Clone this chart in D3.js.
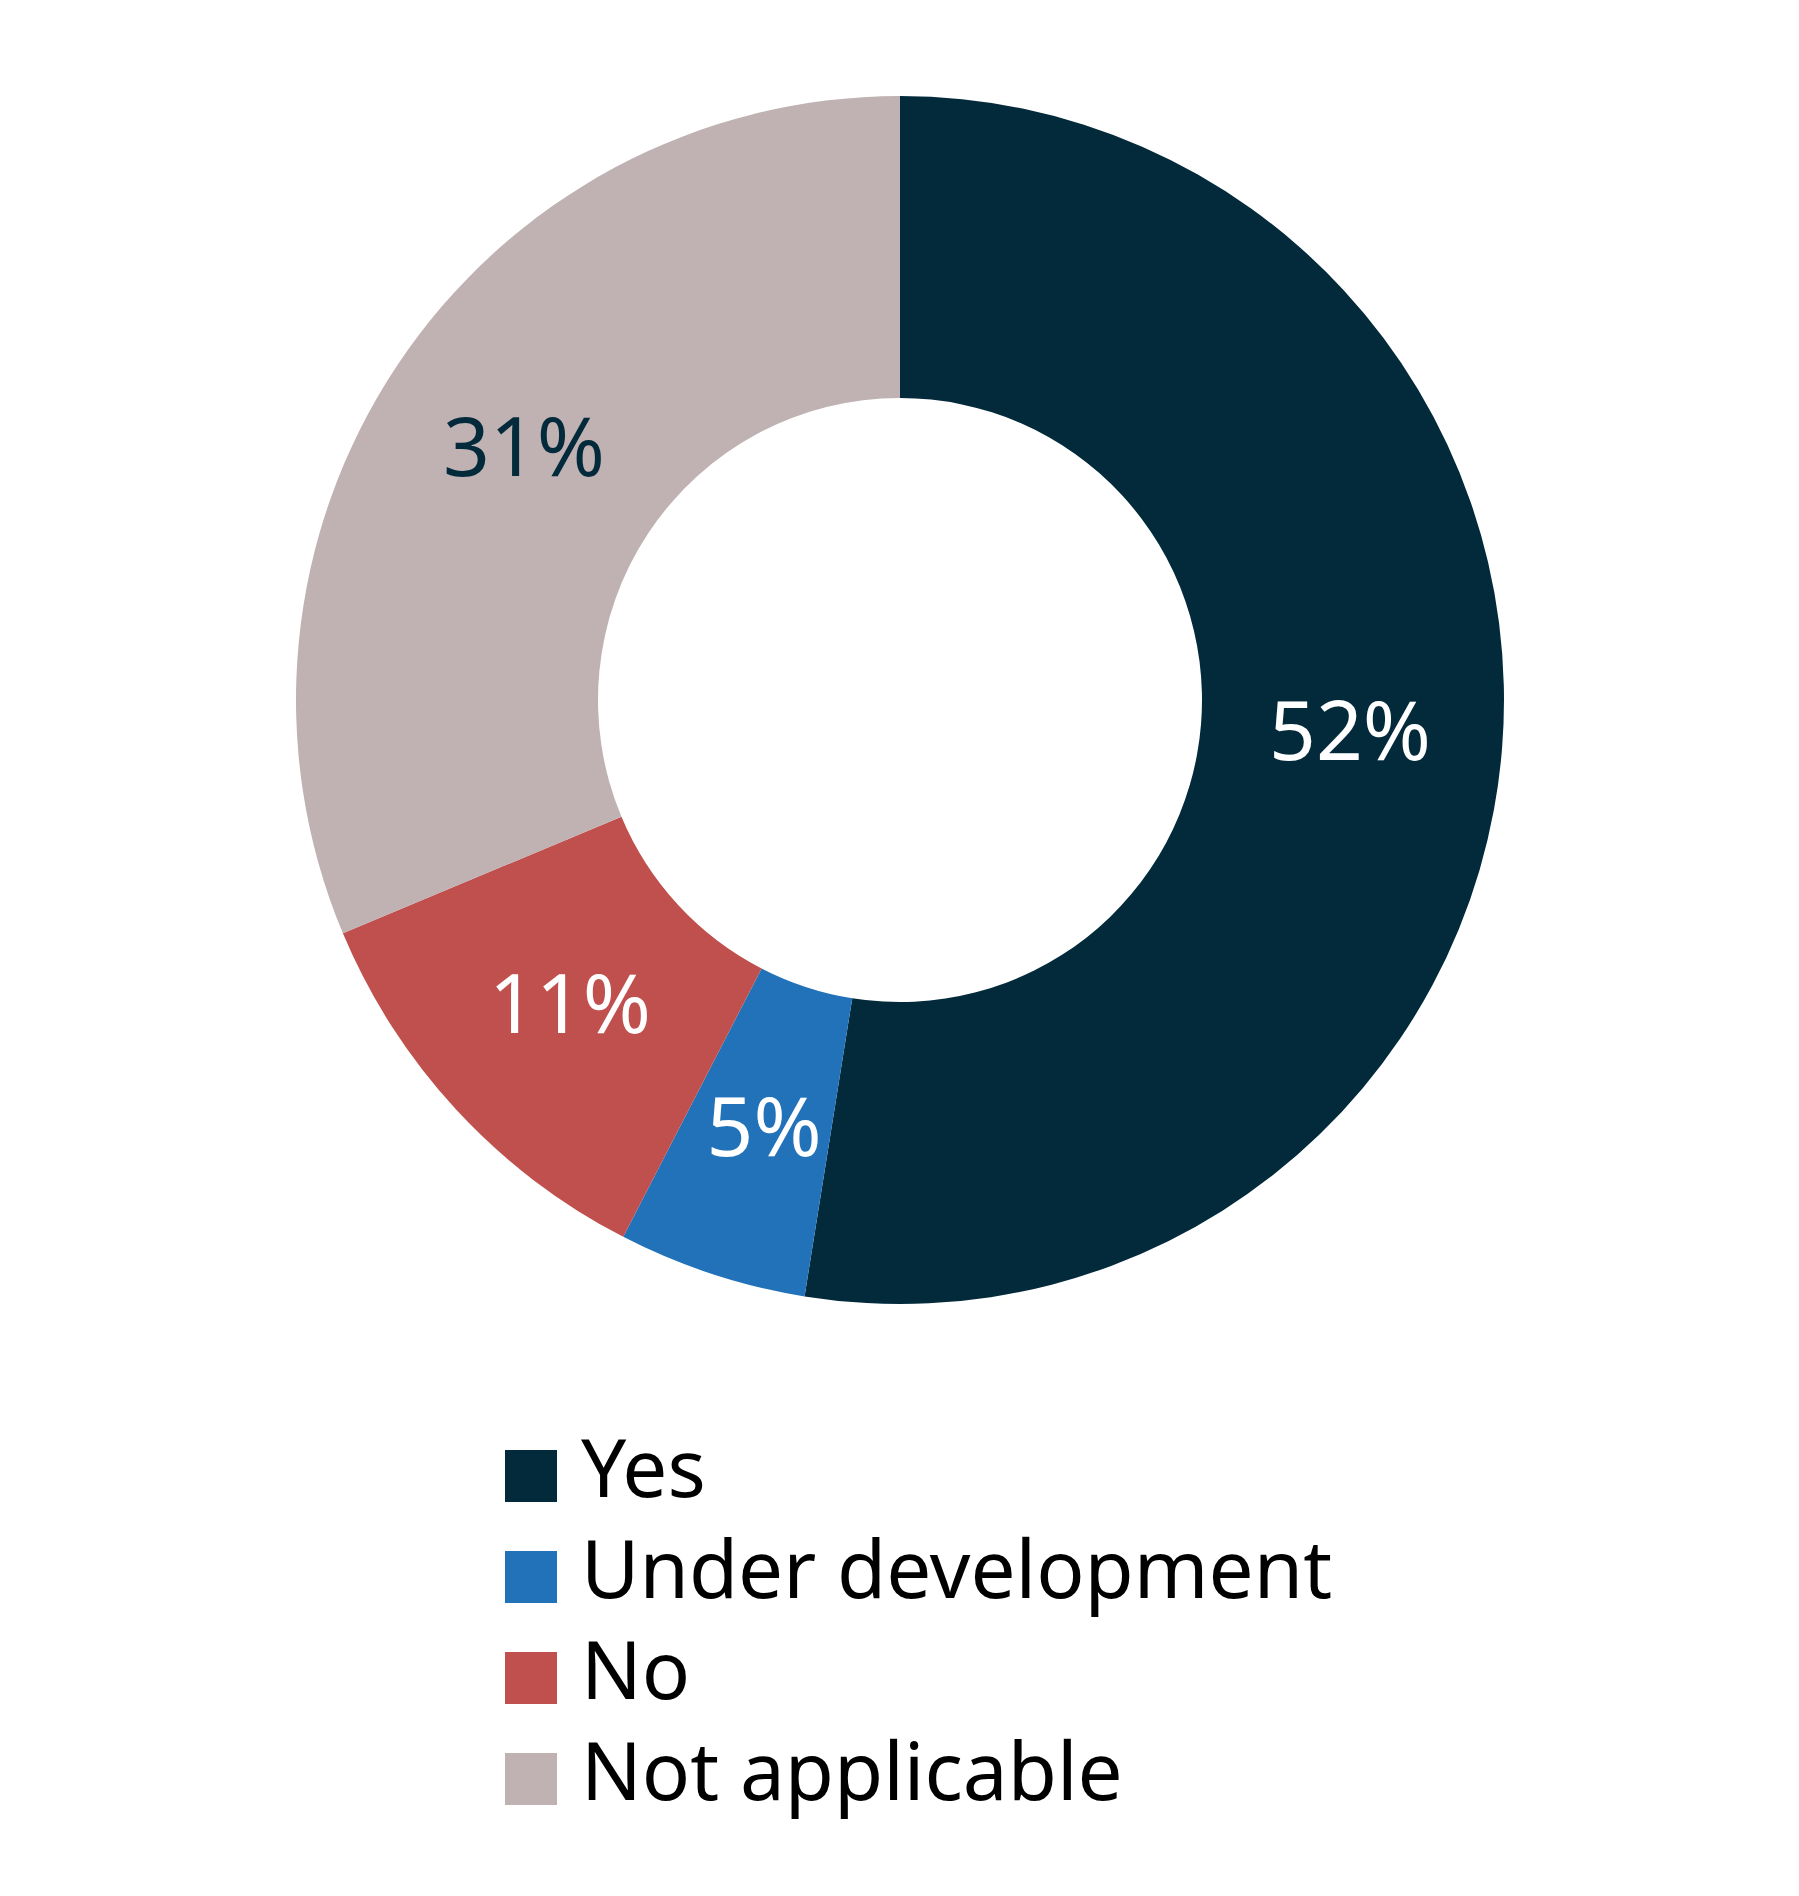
<!DOCTYPE html>
<html><head><meta charset="utf-8">
<script src="https://cdn.jsdelivr.net/npm/d3@7"></script>
<style>body{margin:0;background:#fff}</style>
</head><body><div id="chart"></div>
<script>
const categories = ["Yes", "Under development", "No", "Not applicable"];
const values = [52, 5, 11, 31];
const labels = ["52%", "5%", "11%", "31%"];
const colors = ["#022a3b", "#2272b9", "#c0504d", "#c0b1b3"];
const labelColors = ["#fff", "#fff", "#fff", "#022a3b"];

const width = 1799, height = 1896;
const cx = 900, cy = 700, outerR = 604, innerR = 302;
const font = "'Source Sans Pro', 'Noto Sans', sans-serif";

const svg = d3.select("#chart").append("svg")
    .attr("width", width).attr("height", height);

const data = categories.map((c, i) => ({cat: c, value: values[i], label: labels[i], i}));
const pie = d3.pie().sort(null).value(d => d.value);
const arc = d3.arc().innerRadius(innerR).outerRadius(outerR);

const g = svg.append("g").attr("transform", `translate(${cx},${cy})`);
const arcs = pie(data);

g.selectAll("path").data(arcs).enter().append("path")
    .attr("d", arc)
    .attr("fill", d => colors[d.data.i]);

// label offsets tuned to the reference
const labelPos = [[450, 38], [-136, 434], [-330, 311], [-376, -246]];
g.selectAll("text.lbl").data(arcs).enter().append("text")
    .attr("class", "lbl")
    .attr("x", d => labelPos[d.data.i][0])
    .attr("y", d => labelPos[d.data.i][1])
    .attr("text-anchor", "middle")
    .attr("dominant-baseline", "middle")
    .attr("font-family", font)
    .attr("font-size", 82)
    .attr("fill", d => labelColors[d.data.i])
    .text(d => d.data.label);

// legend
const legend = svg.append("g").attr("transform", "translate(505,1450)");
const row = d3.scaleBand().domain(categories).range([0, 404]);
const items = legend.selectAll("g").data(categories).enter().append("g")
    .attr("transform", d => `translate(0,${row(d)})`);
items.append("rect").attr("width", 52).attr("height", 52)
    .attr("fill", (d, i) => colors[i]);
items.append("text")
    .attr("x", 76).attr("y", 26)
    .attr("dominant-baseline", "middle")
    .attr("font-family", font)
    .attr("font-size", 80)
    .attr("fill", "#000")
    .text(d => d);
</script></body></html>
